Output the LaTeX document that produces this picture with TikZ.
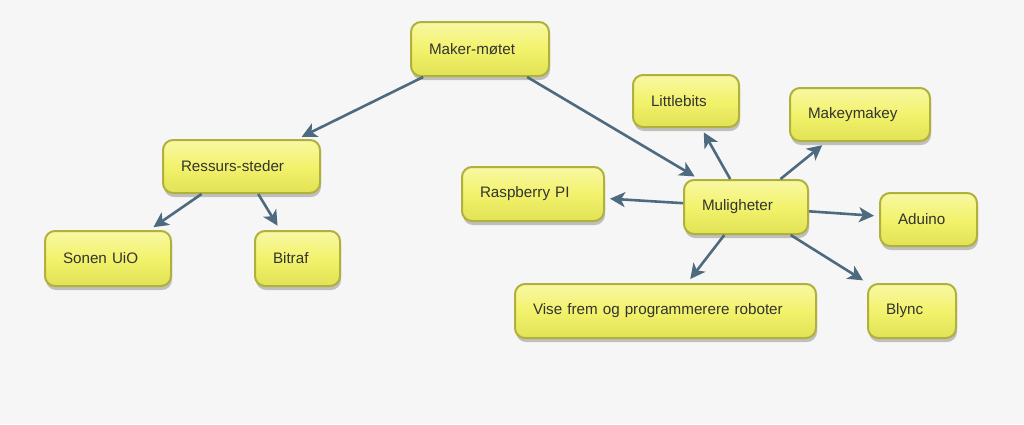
\documentclass[tikz,border=0pt]{standalone}
\usepackage{fontspec}
\setmainfont{Liberation Sans}
\usetikzlibrary{arrows.meta,shadows}
\definecolor{bgc}{HTML}{F6F6F6}
\definecolor{boxtop}{HTML}{F8F8A4}
\definecolor{boxmid}{HTML}{F2F26C}
\definecolor{boxbot}{HTML}{E2E256}
\definecolor{boxline}{HTML}{B0B03C}
\definecolor{arrc}{HTML}{4E6A7F}
\tikzset{
  mapbox/.style={rectangle, rounded corners=10pt, draw=boxline, line width=2pt,
    top color=boxtop, bottom color=boxbot, middle color=boxmid,
    drop shadow={shadow xshift=1pt, shadow yshift=-4pt, opacity=0.22, fill=black},
    inner xsep=18pt, inner ysep=0pt, align=left,
    font=\fontsize{15.2}{17}\selectfont, text=black!80},
  link/.style={draw=arrc, line width=2.6pt, -{Stealth[length=15pt,width=15pt,inset=4pt]}, shorten >=5pt}
}
\begin{document}
\begin{tikzpicture}[x=1pt,y=1pt]
\fill[bgc] (0,0) rectangle (1024,-424);
\useasboundingbox (0,0) rectangle (1024,-424);
\node[mapbox, text width=102pt, minimum height=54pt] (maker) at (480,-49) {Maker-møtet};
\node[mapbox, text width=121pt, minimum height=53pt] (ress) at (241.5,-166.5) {Ressurs-steder};
\node[mapbox, text width=90pt, minimum height=55pt] (sonen) at (108,-258.5) {Sonen UiO};
\node[mapbox, text width=49pt, minimum height=55pt] (bitraf) at (297.5,-258.5) {Bitraf};
\node[mapbox, text width=70pt, minimum height=52pt] (little) at (686,-101) {Littlebits};
\node[mapbox, text width=104pt, minimum height=53pt] (makey) at (860,-114.5) {Makeymakey};
\node[mapbox, text width=106pt, minimum height=54pt] (rasp) at (533,-194) {Raspberry PI};
\node[mapbox, text width=88pt, minimum height=54pt] (mul) at (746,-207) {Muligheter};
\node[mapbox, text width=61pt, minimum height=53pt] (adu) at (928.5,-219.5) {Aduino};
\node[mapbox, text width=265pt, minimum height=54pt] (vise) at (665.5,-311) {Vise frem og programmerere roboter};
\node[mapbox, text width=52pt, minimum height=54pt] (blync) at (912,-311) {Blync};
\draw[link] (maker) -- (ress);
\draw[link] (maker) -- (mul);
\draw[link] (ress) -- (sonen);
\draw[link] (ress) -- (bitraf);
\draw[link] (mul) -- (little);
\draw[link] (mul) -- (makey);
\draw[link] (mul) -- (rasp);
\draw[link] (mul) -- (adu);
\draw[link] (mul) -- (vise);
\draw[link] (mul) -- (blync);
\end{tikzpicture}
\end{document}
